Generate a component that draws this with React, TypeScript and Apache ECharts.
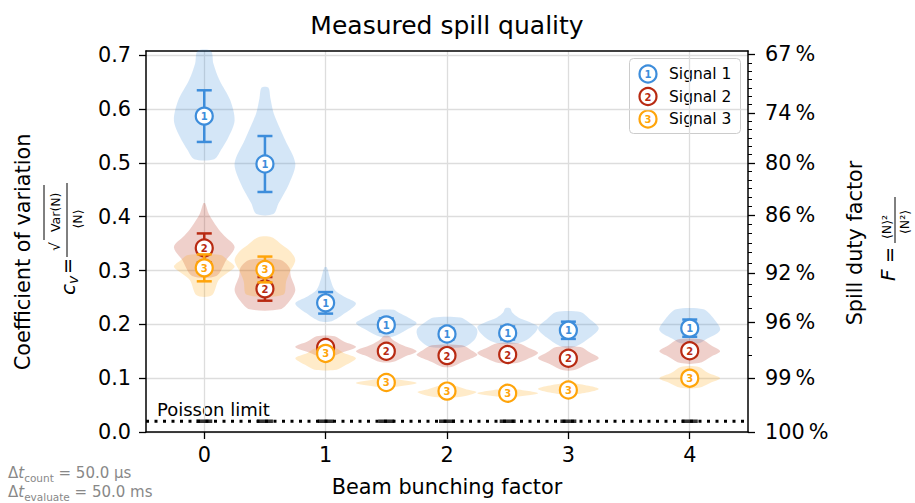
import React, { useEffect, useRef } from 'react';
import * as echarts from 'echarts';

// ---------- data ----------
const xPositions = [0, 0.5, 1, 1.5, 2, 2.5, 3, 4];
const xTicks = [0, 1, 2, 3, 4];
const yTicks = [0, 0.1, 0.2, 0.3, 0.4, 0.5, 0.6, 0.7];
const dutyMajor = [67, 74, 80, 86, 92, 96, 99, 100];
const dutyMinor = [68, 69, 70, 71, 72, 73, 75, 76, 77, 78, 79, 81, 82, 83, 84, 85, 87, 88, 89, 90, 91, 93, 94, 95, 97, 98];

const signalNames = ['Signal 1', 'Signal 2', 'Signal 3'];
const signalLabels = ['1', '2', '3'];
const signalColors = ['#3d8ddb', '#b82a12', '#ffa40a'];

const mean1 = [0.587, 0.498, 0.24, 0.199, 0.182, 0.184, 0.189, 0.193];
const mean2 = [0.342, 0.266, 0.157, 0.15, 0.142, 0.144, 0.137, 0.151];
const mean3 = [0.305, 0.302, 0.146, 0.092, 0.076, 0.072, 0.078, 0.1];
const err1 = [0.048, 0.052, 0.02, 0.012, 0.01, 0.012, 0.016, 0.016];
const err2 = [0.027, 0.022, 0.008, 0.006, 0.006, 0.006, 0.006, 0.006];
const err3 = [0.025, 0.024, 0.008, 0.005, 0.005, 0.005, 0.005, 0.006];

// violin profiles: [value, relative half width], bottom -> top
const violin1 = [
  [[0.507, 0.33], [0.524, 0.55], [0.548, 0.8], [0.579, 1.0], [0.616, 0.86], [0.654, 0.5], [0.685, 0.3], [0.708, 0.22]],
  [[0.405, 0.28], [0.425, 0.45], [0.462, 0.8], [0.499, 1.0], [0.542, 0.67], [0.592, 0.29], [0.62, 0.18], [0.64, 0.11]],
  [[0.206, 0.2], [0.221, 0.64], [0.239, 1.0], [0.252, 0.6], [0.264, 0.3], [0.285, 0.15], [0.306, 0.04]],
  [[0.177, 0.2], [0.19, 0.67], [0.202, 1.0], [0.212, 0.75], [0.222, 0.4], [0.227, 0.25]],
  [[0.158, 0.55], [0.171, 0.9], [0.184, 1.0], [0.193, 0.97], [0.205, 0.7], [0.213, 0.44]],
  [[0.165, 0.35], [0.176, 0.75], [0.195, 1.0], [0.205, 0.7], [0.213, 0.35], [0.222, 0.15], [0.23, 0.08]],
  [[0.158, 0.2], [0.175, 0.7], [0.193, 1.0], [0.21, 0.7], [0.223, 0.4]],
  [[0.165, 0.3], [0.171, 0.5], [0.189, 1.0], [0.21, 0.8], [0.228, 0.45]],
];
const violin2 = [
  [[0.29, 0.4], [0.319, 0.72], [0.344, 1.0], [0.365, 0.65], [0.381, 0.42], [0.405, 0.15], [0.425, 0.03]],
  [[0.228, 0.5], [0.245, 0.83], [0.264, 1.0], [0.29, 0.85], [0.306, 0.8], [0.32, 0.5]],
  [[0.14, 0.2], [0.147, 0.5], [0.158, 1.0], [0.168, 0.6], [0.178, 0.3]],
  [[0.13, 0.2], [0.14, 0.6], [0.15, 1.0], [0.162, 0.5], [0.172, 0.2], [0.178, 0.1]],
  [[0.121, 0.15], [0.13, 0.5], [0.143, 1.0], [0.152, 0.8], [0.161, 0.5]],
  [[0.128, 0.3], [0.137, 0.7], [0.147, 1.0], [0.156, 0.7], [0.165, 0.35]],
  [[0.115, 0.2], [0.126, 0.6], [0.137, 1.0], [0.148, 0.7], [0.158, 0.4]],
  [[0.128, 0.3], [0.14, 0.7], [0.15, 1.0], [0.161, 0.7], [0.172, 0.4]],
];
const violin3 = [
  [[0.254, 0.25], [0.282, 0.47], [0.295, 0.75], [0.307, 1.0], [0.318, 0.8], [0.329, 0.53]],
  [[0.255, 0.6], [0.28, 0.7], [0.295, 0.8], [0.319, 1.0], [0.335, 0.85], [0.347, 0.58], [0.362, 0.22]],
  [[0.115, 0.3], [0.121, 0.55], [0.137, 1.0], [0.147, 0.6], [0.156, 0.3]],
  [[0.084, 0.3], [0.091, 1.0], [0.098, 0.3]],
  [[0.065, 0.4], [0.074, 0.97], [0.08, 0.6], [0.087, 0.2]],
  [[0.065, 0.2], [0.072, 1.0], [0.08, 0.2]],
  [[0.069, 0.15], [0.08, 1.0], [0.091, 0.15]],
  [[0.082, 0.3], [0.092, 0.7], [0.1, 1.0], [0.11, 0.6], [0.121, 0.3]],
];
const poissonLimit = 0.02;

// ---------- helpers ----------
const FONT = 'DejaVu Sans';
const VIOLIN_HALF = 0.25;
const X_MIN = -0.48;
const X_MAX = 4.48;
const Y_MAX = 0.708;

const cvOfDuty = (p: number) => Math.sqrt(100 / p - 1);

function rgba(hex: string, a: number) {
  const n = parseInt(hex.slice(1), 16);
  return `rgba(${(n >> 16) & 255},${(n >> 8) & 255},${n & 255},${a})`;
}

function violinSeries(profiles: number[][][], color: string) {
  return {
    type: 'custom',
    coordinateSystem: 'cartesian2d',
    xAxisIndex: 0,
    yAxisIndex: 0,
    silent: true,
    z: 2,
    data: profiles.map((p, i) => [xPositions[i], p[0][0], p[p.length - 1][0]]),
    encode: { x: 0, y: [1, 2] },
    renderItem: (params: any, api: any) => {
      const i = params.dataIndex;
      const prof = profiles[i];
      const x = xPositions[i];
      const right = prof.map(([y, w]) => api.coord([x + w * VIOLIN_HALF, y]));
      const left = prof.slice().reverse().map(([y, w]) => api.coord([x - w * VIOLIN_HALF, y]));
      return {
        type: 'polygon',
        shape: { points: right.concat(left), smooth: 0.3 },
        style: { fill: rgba(color, 0.22), stroke: 'none' },
      };
    },
  };
}

function markerSeries(means: number[], errs: number[], color: string, label: string) {
  return {
    type: 'custom',
    coordinateSystem: 'cartesian2d',
    xAxisIndex: 0,
    yAxisIndex: 0,
    silent: true,
    z: 5,
    data: means.map((m, i) => [xPositions[i], m, errs[i]]),
    encode: { x: 0, y: 1 },
    renderItem: (params: any, api: any) => {
      const x = api.value(0);
      const m = api.value(1);
      const e = api.value(2);
      const c = api.coord([x, m]);
      const t = api.coord([x, m + e]);
      const b = api.coord([x, m - e]);
      const ls = { stroke: color, lineWidth: 2.5 };
      return {
        type: 'group',
        children: [
          { type: 'line', shape: { x1: c[0], y1: t[1], x2: c[0], y2: b[1] }, style: ls },
          { type: 'line', shape: { x1: c[0] - 7.5, y1: t[1], x2: c[0] + 7.5, y2: t[1] }, style: ls },
          { type: 'line', shape: { x1: c[0] - 7.5, y1: b[1], x2: c[0] + 7.5, y2: b[1] }, style: ls },
          { type: 'circle', shape: { cx: c[0], cy: c[1], r: 8.5 }, style: { fill: '#fff', stroke: color, lineWidth: 2.2 } },
          {
            type: 'text',
            x: c[0],
            y: c[1] + 0.5,
            style: { text: label, fill: color, fontSize: 10, fontWeight: 'bold', fontFamily: FONT, align: 'center', verticalAlign: 'middle' },
          },
        ],
      };
    },
  };
}

function legendGraphic() {
  const children: any[] = [
    { type: 'rect', shape: { x: 629.5, y: 58.5, width: 111, height: 75, r: 4 }, style: { fill: 'rgba(255,255,255,0.8)', stroke: '#cccccc', lineWidth: 1 } },
  ];
  const rows = [74, 96.5, 119];
  signalNames.forEach((name, i) => {
    children.push({ type: 'circle', shape: { cx: 648, cy: rows[i], r: 8.5 }, style: { fill: '#fff', stroke: signalColors[i], lineWidth: 2.2 } });
    children.push({ type: 'text', x: 648, y: rows[i] + 0.5, style: { text: signalLabels[i], fill: signalColors[i], fontSize: 10, fontWeight: 'bold', fontFamily: FONT, align: 'center', verticalAlign: 'middle' } });
    children.push({ type: 'text', x: 669, y: rows[i], style: { text: name, fill: '#000', fontSize: 15.5, fontFamily: FONT, align: 'left', verticalAlign: 'middle' } });
  });
  return { type: 'group', z: 100, children };
}

function txt(x: number, y: number, text: string, size: number, extra: any = {}) {
  return { type: 'text', x, y, style: { text, fontSize: size, fontFamily: FONT, fill: '#000', align: 'left', verticalAlign: 'middle', ...extra } };
}

export default function App() {
  const ref = useRef<HTMLDivElement>(null);
  useEffect(() => {
    if (!ref.current) return;
    const chart = echarts.init(ref.current, null, { renderer: 'svg' });
    const axisBlack = { color: '#000', width: 1.5 };
    const labelStyle = { color: '#000', fontSize: 20.8, fontFamily: FONT };
    const majorCv = dutyMajor.map(cvOfDuty);
    const minorCv = dutyMinor.map(cvOfDuty);

    const leftFormula = {
      type: 'group', x: 67, y: 237, rotation: Math.PI / 2,
      children: [
        txt(-58, 1, 'c', 20, { fontStyle: 'italic' }),
        txt(-47, 6, 'v', 14, { fontStyle: 'italic' }),
        txt(-37, 0, '=', 19),
        { type: 'line', shape: { x1: -20, y1: 0, x2: 54, y2: 0 }, style: { stroke: '#000', lineWidth: 1 } },
        txt(-14, -12, '√', 14),
        { type: 'line', shape: { x1: -3, y1: -23, x2: 52, y2: -23 }, style: { stroke: '#000', lineWidth: 1 } },
        txt(5, -12, 'Var(N)', 12.5),
        txt(18, 10, '⟨N⟩', 12.5, { align: 'center' }),
      ],
    };
    const rightFormula = {
      type: 'group', x: 895, y: 238, rotation: Math.PI / 2,
      children: [
        txt(-43, -7, 'F', 20, { fontStyle: 'italic' }),
        txt(-25, -6, '=', 19),
        { type: 'line', shape: { x1: -5, y1: 0, x2: 41, y2: 0 }, style: { stroke: '#000', lineWidth: 1 } },
        txt(11, -9, '⟨N⟩²', 12.5, { align: 'center' }),
        txt(16, 9, '⟨N²⟩', 12.5, { align: 'center' }),
      ],
    };

    const richDelta = (sub: string, rest: string) => ({
      text: `{m|Δ}{i|t}{s|${sub}}{m| = ${rest}}`,
      rich: {
        m: { fontSize: 15, fontFamily: FONT, fill: '#888', color: '#888' },
        i: { fontSize: 15, fontFamily: FONT, fontStyle: 'italic', fill: '#888', color: '#888' },
        s: { fontSize: 10.5, fontFamily: FONT, fill: '#888', color: '#888', padding: [9, 0, 0, 0] },
      },
      align: 'left',
      verticalAlign: 'middle',
    });

    chart.setOption({
      animation: false,
      grid: { left: 146, right: 167, top: 51, bottom: 71, containLabel: false },
      xAxis: [
        {
          type: 'value', min: X_MIN, max: X_MAX, splitNumber: 5,
          axisLine: { show: true, onZero: false, lineStyle: axisBlack },
          axisTick: { show: true, length: 7, lineStyle: { color: '#000', width: 1.3 }, customValues: xTicks },
          axisLabel: { ...labelStyle, margin: 12, customValues: xTicks, formatter: (v: number) => String(v) },
          splitLine: { show: true, lineStyle: { color: '#dddddd', width: 1.3 } },
        },
        {
          type: 'value', position: 'top', min: X_MIN, max: X_MAX,
          axisLine: { show: true, onZero: false, lineStyle: axisBlack },
          axisTick: { show: false }, axisLabel: { show: false }, splitLine: { show: false },
        },
      ],
      yAxis: [
        {
          type: 'value', min: 0, max: Y_MAX, interval: 0.1, position: 'left',
          axisLine: { show: true, onZero: false, lineStyle: axisBlack },
          axisTick: { show: true, length: 7, lineStyle: { color: '#000', width: 1.3 }, customValues: yTicks },
          axisLabel: { ...labelStyle, margin: 15, customValues: yTicks, formatter: (v: number) => v.toFixed(1) },
          splitLine: { show: true, lineStyle: { color: '#dddddd', width: 1.3 } },
        },
        {
          type: 'value', min: 0, max: Y_MAX, position: 'right',
          axisLine: { show: true, onZero: false, lineStyle: axisBlack },
          axisTick: { show: true, length: 7, lineStyle: { color: '#000', width: 1.3 }, customValues: majorCv },
          axisLabel: { ...labelStyle, margin: 17, customValues: majorCv, formatter: (v: number) => `${Math.round(100 / (1 + v * v))}\u2009%` },
          splitLine: { show: false },
        },
        {
          type: 'value', min: 0, max: Y_MAX, position: 'right',
          axisLine: { show: false, onZero: false },
          axisTick: { show: true, length: 4, lineStyle: { color: '#000', width: 1 }, customValues: minorCv },
          axisLabel: { show: false },
          splitLine: { show: false },
        },
      ],
      series: [
        violinSeries(violin1, signalColors[0]),
        violinSeries(violin2, signalColors[1]),
        violinSeries(violin3, signalColors[2]),
        {
          type: 'line', xAxisIndex: 0, yAxisIndex: 0, silent: true, z: 3,
          data: [[X_MIN, poissonLimit], [X_MAX, poissonLimit]],
          symbol: 'none',
          lineStyle: { color: '#000', width: 3, type: [3, 5.5] },
        },
        {
          type: 'scatter', xAxisIndex: 0, yAxisIndex: 0, silent: true, z: 4,
          data: xPositions.map((x) => [x, poissonLimit]),
          symbol: 'rect', symbolSize: [16, 3.5],
          itemStyle: { color: '#000' },
        },
        markerSeries(mean1, err1, signalColors[0], signalLabels[0]),
        markerSeries(mean2, err2, signalColors[1], signalLabels[1]),
        markerSeries(mean3, err3, signalColors[2], signalLabels[2]),
      ],
      graphic: [
        txt(447, 25, 'Measured spill quality', 25, { align: 'center' }),
        txt(447, 487, 'Beam bunching factor', 20.8, { align: 'center' }),
        { ...txt(23, 252, 'Coefficient of variation', 20.8, { align: 'center' }), rotation: Math.PI / 2 },
        { ...txt(855, 243, 'Spill duty factor', 20.8, { align: 'center' }), rotation: Math.PI / 2 },
        leftFormula,
        rightFormula,
        txt(157, 409, 'Poisson limit', 18),
        { type: 'text', x: 8, y: 473, style: richDelta('count', '50.0 µs') },
        { type: 'text', x: 8, y: 492, style: richDelta('evaluate', '50.0 ms') },
        legendGraphic(),
      ],
    });
    return () => chart.dispose();
  }, []);
  return <div ref={ref} style={{ width: 915, height: 503, position: 'absolute', left: 0, top: 0, background: '#fff' }} />;
}
